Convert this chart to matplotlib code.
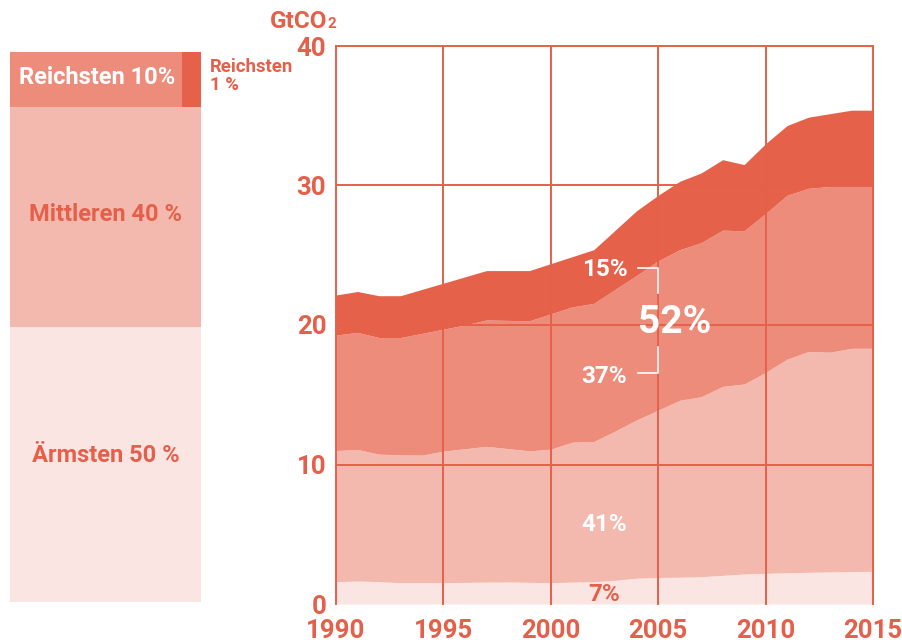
import numpy as np
import matplotlib.pyplot as plt

plt.rcParams['font.family'] = ['Roboto', 'DejaVu Sans']

years = np.arange(1990, 2016)
# upper edge of each stacked layer (GtCO2)
poorest_top = [1.6, 1.65, 1.6, 1.53, 1.53, 1.53, 1.55, 1.57, 1.58, 1.55, 1.53, 1.57, 1.6,
               1.7, 1.85, 1.9, 1.92, 1.96, 2.05, 2.15, 2.2, 2.24, 2.27, 2.3, 2.32, 2.34]
middle_top = [11.0, 11.08, 10.74, 10.7, 10.67, 10.96, 11.13, 11.3, 11.14, 10.98, 11.1, 11.6, 11.65,
              12.4, 13.2, 13.9, 14.6, 14.86, 15.6, 15.77, 16.6, 17.55, 18.1, 18.05, 18.33, 18.33]
rich_top = [19.28, 19.47, 19.1, 19.1, 19.4, 19.7, 20.0, 20.36, 20.33, 20.3, 20.8, 21.3, 21.55,
            22.56, 23.56, 24.6, 25.4, 25.9, 26.8, 26.75, 28.0, 29.3, 29.8, 29.93, 29.93, 29.93]
top1_top = [22.15, 22.4, 22.1, 22.1, 22.55, 23.0, 23.45, 23.9, 23.9, 23.9, 24.4, 24.9, 25.4,
            26.8, 28.2, 29.3, 30.3, 30.9, 31.85, 31.5, 33.0, 34.3, 34.9, 35.15, 35.4, 35.4]

pop_shares = [50, 40, 10]
pop_labels = ['Ärmsten 50 %', 'Mittleren 40 %', 'Reichsten 10%']
top1_share = 0.1  # width fraction of the top-1% strip

red = '#E5604A'
c_top1 = '#E5614A'
c_rich = '#ED8C7B'
c_mid = '#F4B9AE'
c_poor = '#FAE5E2'

fig = plt.figure(figsize=(9.03, 6.42), dpi=100)

# ---- left population bar
axl = fig.add_axes([10/903, 40/642, 191/903, 550/642])
axl.set_xlim(0, 1)
axl.set_ylim(0, 100)
axl.axis('off')
axl.bar(0.5, pop_shares[0], width=1, bottom=0, color=c_poor, linewidth=0)
axl.bar(0.5, pop_shares[1], width=1, bottom=pop_shares[0], color=c_mid, linewidth=0)
axl.bar(0.5, pop_shares[2], width=1, bottom=pop_shares[0] + pop_shares[1], color=c_rich, linewidth=0)
axl.bar(1 - top1_share/2, pop_shares[2], width=top1_share, bottom=90, color=c_top1, linewidth=0)
axl.text(0.5, 26.7, pop_labels[0], color=red, fontsize=17, fontweight='bold', ha='center', va='center')
axl.text(0.5, 70.5, pop_labels[1], color=red, fontsize=17, fontweight='bold', ha='center', va='center')
axl.text(0.455, 95.3, pop_labels[2], color='white', fontsize=17, fontweight='bold', ha='center', va='center')
fig.text(210/903, 1 - 76/642, 'Reichsten\n1 %', color=red, fontsize=13.3, fontweight='bold',
         ha='left', va='center', linespacing=1.0)

# ---- main area chart
ax = fig.add_axes([336/903, 38/642, 537/903, 558/642])
ax.fill_between(years, 0, poorest_top, color=c_poor, linewidth=0)
ax.fill_between(years, poorest_top, middle_top, color=c_mid, linewidth=0)
ax.fill_between(years, middle_top, rich_top, color=c_rich, linewidth=0)
ax.fill_between(years, rich_top, top1_top, color=c_top1, linewidth=0)
ax.set_xlim(1990, 2015)
ax.set_ylim(0, 40)

for x in range(1990, 2016, 5):
    ax.axvline(x, color=red, lw=1.4, zorder=2, clip_on=False)
for y in range(10, 41, 10):
    ax.axhline(y, color=red, lw=1.4, zorder=2, clip_on=False)
for s in ax.spines.values():
    s.set_visible(False)

ax.set_xticks(range(1990, 2016, 5))
ax.set_yticks(range(0, 41, 10))
ax.tick_params(length=0, labelcolor=red, labelsize=18.5)
ax.tick_params(axis='x', pad=11)
ax.tick_params(axis='y', pad=7)
for lab in ax.get_xticklabels() + ax.get_yticklabels():
    lab.set_fontweight('bold')

fig.text(327/903, 1 - 28/642, 'GtCO', color=red, fontsize=17.5, fontweight='bold', ha='right', va='baseline')
fig.text(328/903, 1 - 28/642, '2', color=red, fontsize=11, fontweight='bold', ha='left', va='baseline')

# share annotations
ax.text(2002.5, 23.95, '15%', color='white', fontsize=17.5, fontweight='bold', ha='center', va='center', zorder=4)
ax.text(2002.5, 16.3, '37%', color='white', fontsize=17.5, fontweight='bold', ha='center', va='center', zorder=4)
ax.text(2005.75, 20.2, '52%', color='white', fontsize=28, fontweight='bold', ha='center', va='center', zorder=4)
ax.text(2002.5, 5.7, '41%', color='white', fontsize=17.5, fontweight='bold', ha='center', va='center', zorder=4)
ax.text(2002.5, 0.7, '7%', color=red, fontsize=17.5, fontweight='bold', ha='center', va='center', zorder=4)
ax.plot([2004.05, 2005, 2005], [24.1, 24.1, 22.3], color='white', lw=1.2, zorder=4)
ax.plot([2005, 2005, 2004.05], [18.4, 16.55, 16.55], color='white', lw=1.2, zorder=4)

fig.savefig('out.png', dpi=100)
